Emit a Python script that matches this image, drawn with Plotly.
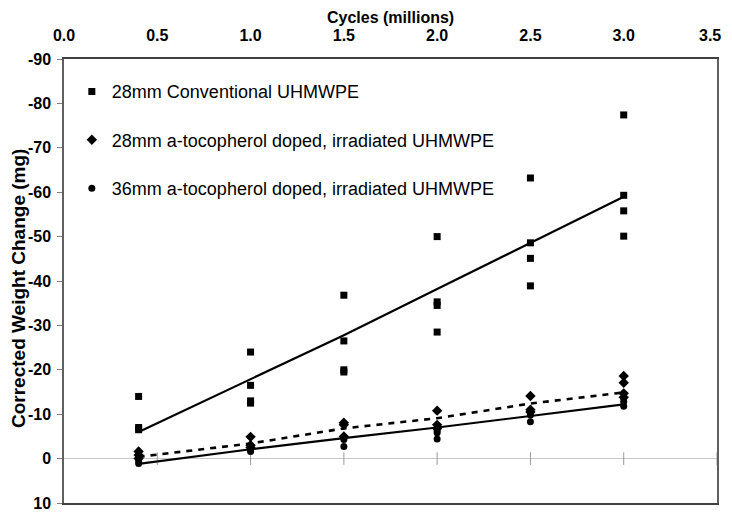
import plotly.graph_objects as go

# ---- data ----
conv_x = [0.4, 0.4, 0.4, 1.0, 1.0, 1.0, 1.0, 1.5, 1.5, 1.5, 1.5,
          2.0, 2.0, 2.0, 2.0, 2.5, 2.5, 2.5, 2.5, 3.0, 3.0, 3.0, 3.0]
conv_y = [-14.0, -7.0, -6.5, -24.0, -16.5, -13.0, -12.5, -36.8, -26.5, -20.0, -19.5,
          -50.0, -35.3, -34.5, -28.5, -63.2, -48.6, -45.1, -38.9, -77.4, -59.3, -55.8, -50.1]

toco28_x = [0.4, 0.4, 0.4, 1.0, 1.0, 1.0, 1.5, 1.5, 1.5, 2.0, 2.0, 2.0,
            2.5, 2.5, 2.5, 3.0, 3.0, 3.0, 3.0]
toco28_y = [-1.6, -0.8, 0.0, -4.9, -3.0, -2.5, -8.1, -7.6, -5.0, -10.8, -7.6, -6.8,
            -14.1, -11.0, -10.5, -18.6, -17.1, -14.7, -13.8]

toco36_x = [0.4, 0.4, 0.4, 1.0, 1.0, 1.0, 1.5, 1.5, 1.5, 2.0, 2.0, 2.0, 2.0,
            2.5, 2.5, 2.5, 3.0, 3.0, 3.0]
toco36_y = [-0.3, 0.5, 1.1, -2.7, -2.0, -1.6, -4.9, -4.3, -2.7, -6.8, -6.3, -5.8, -4.4,
            -10.6, -9.8, -8.3, -13.6, -12.8, -11.8]

line_x = [0.4, 1.0, 1.5, 2.0, 2.5, 3.0]
conv_line = [-6.0, -17.8, -27.8, -38.2, -48.6, -59.0]
toco28_line = [-0.4, -3.4, -6.8, -9.1, -12.4, -14.9]
toco36_line = [1.2, -2.1, -4.6, -7.0, -9.6, -12.2]

x_ticks = [0.0, 0.5, 1.0, 1.5, 2.0, 2.5, 3.0, 3.5]
x_tick_text = ["0.0", "0.5", "1.0", "1.5", "2.0", "2.5", "3.0", "3.5"]
y_ticks = [-90, -80, -70, -60, -50, -40, -30, -20, -10, 0, 10]
y_tick_text = ["-90", "-80", "-70", "-60", "-50", "-40", "-30", "-20", "-10", "0", "10"]

names = ["28mm Conventional UHMWPE",
         "28mm a-tocopherol doped, irradiated UHMWPE",
         "36mm a-tocopherol doped, irradiated UHMWPE"]

fig = go.Figure()

# crossing tick marks on the zero line
fig.add_trace(go.Scatter(
    x=x_ticks[1:], y=[0] * (len(x_ticks) - 1), mode="markers",
    marker=dict(symbol="line-ns", size=9, line=dict(width=1, color="#9a9a9a")),
    showlegend=False, hoverinfo="skip"))

# trend lines
fig.add_trace(go.Scatter(x=line_x, y=conv_line, mode="lines",
                         line=dict(color="black", width=2.2), showlegend=False))
fig.add_trace(go.Scatter(x=line_x, y=toco28_line, mode="lines",
                         line=dict(color="black", width=2.6, dash="6px,6px"), showlegend=False))
fig.add_trace(go.Scatter(x=line_x, y=toco36_line, mode="lines",
                         line=dict(color="black", width=2.2), showlegend=False))

# markers
fig.add_trace(go.Scatter(x=conv_x, y=conv_y, mode="markers", name=names[0],
                         legendgroup="a",
                         marker=dict(symbol="square", size=7, color="black")))
fig.add_trace(go.Scatter(x=toco28_x, y=toco28_y, mode="markers", name=names[1],
                         legendgroup="b",
                         marker=dict(symbol="diamond", size=8, color="black")))
fig.add_trace(go.Scatter(x=toco36_x, y=toco36_y, mode="markers", name=names[2],
                         legendgroup="c",
                         marker=dict(symbol="circle", size=7, color="black")))

tick_font = dict(family="Liberation Sans", size=16, color="black", weight="bold")

# last x tick label is pulled inside the figure, as in the reference
fig.add_annotation(x=x_ticks[-1], y=1, xref="x", yref="paper", yanchor="bottom",
                   xanchor="right", xshift=6, yshift=13, text=x_tick_text[-1],
                   showarrow=False, font=tick_font)
# x-axis title above the tick labels
fig.add_annotation(x=0.5, y=1, xref="paper", yref="paper", yanchor="middle",
                   xanchor="center", yshift=42, text="<b>Cycles (millions)</b>",
                   showarrow=False,
                   font=dict(family="Liberation Sans", size=16, color="black"))
# y-axis title
fig.add_annotation(x=0, y=0.5, xref="paper", yref="paper", yanchor="middle",
                   xanchor="center", xshift=-46, yshift=-8, textangle=-90,
                   text="<b>Corrected Weight Change (mg)</b>", showarrow=False,
                   font=dict(family="Liberation Sans", size=19, color="black"))

fig.update_layout(
    width=724, height=507,
    margin=dict(l=56, r=15, t=51, b=12, autoexpand=False),
    paper_bgcolor="white", plot_bgcolor="white",
    font=dict(family="Liberation Sans", color="black"),
    showlegend=True,
    legend=dict(x=0.012, y=0.968, xanchor="left", yanchor="top",
                bgcolor="rgba(0,0,0,0)", tracegroupgap=22,
                font=dict(family="Liberation Sans", size=18, color="black"),
                itemwidth=30),
    xaxis=dict(
        side="top", range=[0, 3.5], tickvals=x_ticks, automargin=False,
        ticktext=x_tick_text[:-1] + [""],
        showgrid=False, zeroline=False, ticks="",
        showline=True, linecolor="#404040", linewidth=1.5, mirror=True,
        tickfont=tick_font, ticklabelstandoff=10,
    ),
    yaxis=dict(
        range=[10, -90], tickvals=y_ticks, ticktext=y_tick_text, automargin=False,
        showgrid=False, zeroline=True, zerolinecolor="#c8c8c8", zerolinewidth=1,
        ticks="outside", ticklen=5, tickcolor="#808080",
        showline=True, linecolor="#606060", linewidth=1.5, mirror=True,
        tickfont=tick_font, ticklabelstandoff=3,
    ),
)

fig.write_html("out.html")
